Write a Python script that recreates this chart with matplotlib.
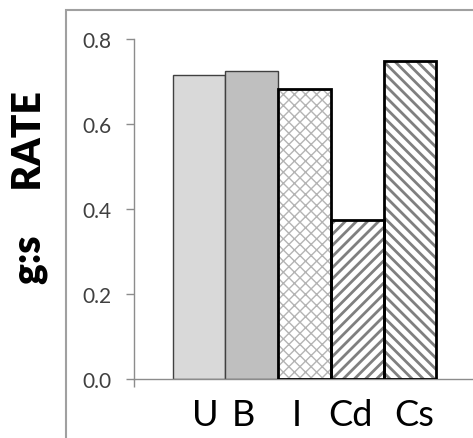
import matplotlib.pyplot as plt
from matplotlib.patches import Rectangle

cats = ["U", "B", "I", "Cd", "Cs"]
rates = [0.716, 0.724, 0.682, 0.375, 0.749]
fills = ["#d9d9d9", "#bfbfbf", "white", "white", "white"]
hatches = [None, None, "xxx", "///", "\\\\\\"]
ylabel = "g:s     RATE"
yticks = [0.0, 0.2, 0.4, 0.6, 0.8]

plt.rcParams["font.family"] = ["Lato", "DejaVu Sans"]
plt.rcParams["hatch.linewidth"] = 2.0

W, H = 473, 439
fig = plt.figure(figsize=(W / 100, H / 100), dpi=100)
ax = fig.add_axes([134 / W, (H - 380) / H, (W - 134) / W, 340 / H])

x = list(range(len(cats)))
for i in x:
    if hatches[i] is None:
        ax.bar(i, rates[i], width=1.0, color=fills[i], edgecolor="#404040", linewidth=1.0, zorder=2)
    else:
        hc = "#b4b4b4" if hatches[i] == "xxx" else "#808080"
        b = ax.bar(i, rates[i], width=1.0, color="white", edgecolor=hc, hatch=hatches[i], linewidth=0, zorder=2)
        if hatches[i] == "xxx":
            for p in b:
                if hasattr(p, "set_hatch_linewidth"):
                    p.set_hatch_linewidth(1.0)
        ax.bar(i, rates[i], width=1.0, fill=False, edgecolor="black", linewidth=2.0, zorder=3)

ax.set_ylim(0, 0.8)
ax.set_xlim(-1.232, 5.194)
ax.set_yticks(yticks)
ax.set_yticklabels([f"{t:.1f}" for t in yticks])
ax.set_xticks([-1.232])
ax.set_xticklabels([""])
for s in ["top", "right"]:
    ax.spines[s].set_visible(False)
for s in ["left", "bottom"]:
    ax.spines[s].set_color("#8c8c8c")
    ax.spines[s].set_linewidth(1.0)
ax.tick_params(axis="both", direction="out", length=6, width=1.0, color="#8c8c8c",
               labelsize=15, labelcolor="#404040", pad=10)

# category names sit in a text line below the axis, not centred on bars
label_px = [205, 243, 297, 350, 414]
for c, px in zip(cats, label_px):
    fig.text(px / W, 1 - 416 / H, c, ha="center", va="center", fontsize=26, color="black")
fig.text(30 / W, 1 - 188 / H, ylabel, rotation=90, ha="center", va="center",
         fontsize=28, fontweight="heavy", color="black")

fig.add_artist(Rectangle((66 / W, -0.1), 1.0, 1 - 11 / H + 0.1, transform=fig.transFigure,
                         fill=False, edgecolor="#a0a0a0", linewidth=1.5, clip_on=False))

fig.savefig("out.png", dpi=100)
